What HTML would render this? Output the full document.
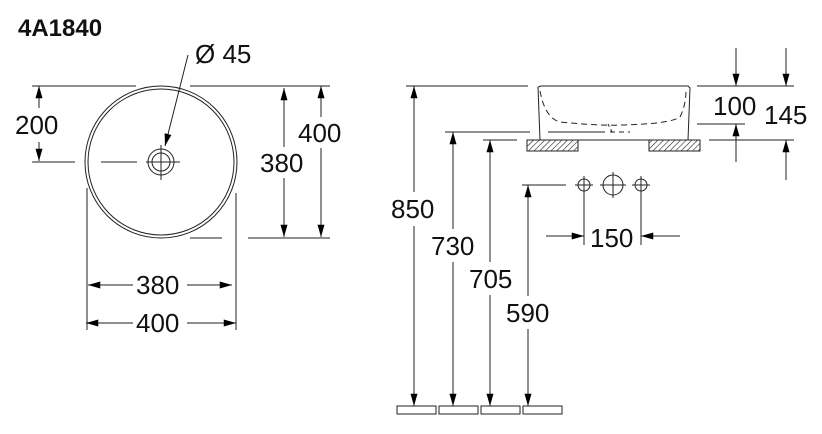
<!DOCTYPE html>
<html><head><meta charset="utf-8"><style>
html,body{margin:0;padding:0;background:#fff;width:822px;height:434px;overflow:hidden}
text{font-family:"Liberation Sans",Arial,sans-serif;fill:#111}
</style></head><body>
<svg width="822" height="434" viewBox="0 0 822 434" xmlns="http://www.w3.org/2000/svg">
<defs>
<marker id="a" viewBox="0 0 14 8" refX="14" refY="4" markerWidth="14" markerHeight="7" markerUnits="userSpaceOnUse" orient="auto"><path d="M0,0L14,4L0,8z" fill="#000"/></marker>
<pattern id="h" width="4" height="4" patternUnits="userSpaceOnUse" patternTransform="rotate(45)"><line x1="0" y1="0" x2="0" y2="4" stroke="#222" stroke-width="1.2"/></pattern>
</defs>
<text x="18" y="36" font-size="24" font-weight="bold">4A1840</text>
<g stroke="#222" stroke-width="1" fill="none">
<circle cx="161" cy="162" r="76"/>
<circle cx="161" cy="162" r="73"/>
<circle cx="161" cy="162" r="13"/>
<circle cx="161" cy="162" r="9"/>
<line x1="161" y1="145" x2="161" y2="180"/>
<line x1="146" y1="162" x2="180" y2="162"/>
<line x1="32" y1="86" x2="136" y2="86"/>
<line x1="190" y1="86" x2="330" y2="86"/>
<line x1="32" y1="162" x2="75" y2="162"/>
<line x1="101" y1="162" x2="137" y2="162"/>
<line x1="190" y1="238" x2="222" y2="238"/>
<line x1="248" y1="238" x2="330" y2="238"/>
<line x1="39" y1="108" x2="39" y2="86" marker-end="url(#a)"/>
<line x1="39" y1="142" x2="39" y2="161" marker-end="url(#a)"/>
<line x1="284" y1="147" x2="284" y2="88" marker-end="url(#a)"/>
<line x1="284" y1="178" x2="284" y2="237" marker-end="url(#a)"/>
<line x1="321" y1="117" x2="321" y2="86" marker-end="url(#a)"/>
<line x1="321" y1="148" x2="321" y2="237" marker-end="url(#a)"/>
<line x1="188" y1="55" x2="165" y2="146" marker-end="url(#a)"/>
<line x1="87" y1="188" x2="87" y2="330"/>
<line x1="236" y1="193" x2="236" y2="330"/>
<line x1="133" y1="285" x2="88" y2="285" marker-end="url(#a)"/>
<line x1="187" y1="285" x2="232" y2="285" marker-end="url(#a)"/>
<line x1="133" y1="323" x2="86" y2="323" marker-end="url(#a)"/>
<line x1="187" y1="323" x2="236" y2="323" marker-end="url(#a)"/>
<path d="M538,87 L540,140 M538,87 L541,86 L688,86 L690,88 L688,140"/>
<path d="M540,91 Q545,118 560,122 Q600,126 620,125 Q670,124 680,117 Q686,105 686,90" stroke-dasharray="6,4"/>
<line x1="608" y1="124" x2="612" y2="132" stroke-dasharray="3,3"/>
<line x1="548" y1="132" x2="605" y2="132"/>
<line x1="610" y1="132" x2="630" y2="132" stroke-dasharray="5,4"/>
<line x1="406" y1="86" x2="528" y2="86"/>
<line x1="697" y1="86" x2="794" y2="86"/>
<line x1="445" y1="132" x2="530" y2="132"/>
<line x1="697" y1="124" x2="745" y2="124"/>
<line x1="483" y1="140" x2="517" y2="140"/>
<line x1="527" y1="140" x2="700" y2="140"/>
<line x1="709" y1="140" x2="794" y2="140"/>
<rect x="527" y="140" width="51" height="11" fill="url(#h)"/>
<rect x="649" y="140" width="51" height="11" fill="url(#h)"/>
<line x1="736" y1="48" x2="736" y2="86" marker-end="url(#a)"/>
<line x1="736" y1="162" x2="736" y2="124" marker-end="url(#a)"/>
<line x1="786" y1="48" x2="786" y2="86" marker-end="url(#a)"/>
<line x1="786" y1="180" x2="786" y2="140" marker-end="url(#a)"/>
<line x1="414" y1="192" x2="414" y2="86" marker-end="url(#a)"/>
<line x1="414" y1="226" x2="414" y2="406" marker-end="url(#a)"/>
<line x1="453" y1="229" x2="453" y2="132" marker-end="url(#a)"/>
<line x1="453" y1="262" x2="453" y2="406" marker-end="url(#a)"/>
<line x1="490" y1="262" x2="490" y2="140" marker-end="url(#a)"/>
<line x1="490" y1="295" x2="490" y2="406" marker-end="url(#a)"/>
<line x1="528" y1="296" x2="528" y2="185" marker-end="url(#a)"/>
<line x1="528" y1="329" x2="528" y2="406" marker-end="url(#a)"/>
<line x1="522" y1="185" x2="566" y2="185"/>
<circle cx="584" cy="185" r="6"/><line x1="575" y1="185" x2="593" y2="185"/><line x1="584" y1="176" x2="584" y2="245"/>
<circle cx="613" cy="185" r="10"/><line x1="600" y1="185" x2="626" y2="185"/><line x1="613" y1="172" x2="613" y2="198"/>
<circle cx="641" cy="185" r="6"/><line x1="632" y1="185" x2="650" y2="185"/><line x1="641" y1="176" x2="641" y2="245"/>
<line x1="546" y1="236" x2="584" y2="236" marker-end="url(#a)"/>
<line x1="680" y1="236" x2="641" y2="236" marker-end="url(#a)"/>
<rect x="397" y="406" width="39" height="8"/>
<rect x="439" y="406" width="39" height="8"/>
<rect x="481" y="406" width="39" height="8"/>
<rect x="523" y="406" width="39" height="8"/>
</g>
<g font-size="26">
<text x="195" y="63">Ø 45</text>
<text x="15" y="134">200</text>
<text x="260" y="172">380</text>
<text x="298" y="142">400</text>
<text x="136" y="294">380</text>
<text x="136" y="332">400</text>
<text x="713" y="115">100</text>
<text x="764" y="124">145</text>
<text x="391" y="218">850</text>
<text x="431" y="255">730</text>
<text x="469" y="288">705</text>
<text x="506" y="322">590</text>
<text x="590" y="247">150</text>
</g>
</svg>
</body></html>
